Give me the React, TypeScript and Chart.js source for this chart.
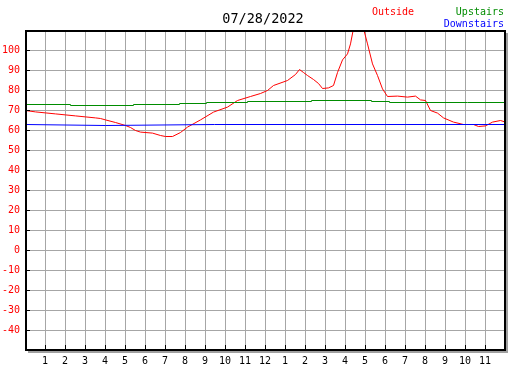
import React, { useEffect, useRef } from "react";
import { Chart, registerables } from "chart.js";

Chart.register(...registerables);

const TITLE = "07/28/2022";
const SERIES_NAMES = ["Outside", "Upstairs", "Downstairs"];
const SERIES_COLORS = ["#ff0000", "#008c00", "#0000ff"];

// hours since midnight
const outsideHours = [
  0, 0.5, 1, 1.5, 2, 2.5, 3, 3.5, 3.75, 4, 4.5, 5, 5.25, 5.5, 5.75, 6.35, 6.75, 7,
  7.35, 7.75, 8.1, 8.75, 9.4, 10.1, 10.6, 11.25, 11.75, 12.1, 12.4, 13.1, 13.5,
  13.7, 13.9, 14.1, 14.4, 14.65, 14.85, 15.15, 15.4, 15.6, 15.85, 16.1, 16.25,
  16.4, 16.65, 16.9, 17.1, 17.35, 17.6, 17.85, 18.1, 18.6, 19.1, 19.5, 19.75, 20,
  20.25, 20.6, 20.9, 21.4, 21.9, 22.4, 22.65, 23, 23.35, 23.75, 24,
];
const outsideTemps = [
  70, 69.3, 68.8, 68.3, 67.8, 67.3, 66.8, 66.3, 66, 65.3, 64, 62.5, 61.5, 60,
  59.2, 58.7, 57.5, 57, 57, 59, 61.7, 65.3, 69.2, 71.7, 75, 77, 78.5, 80, 82.5,
  85, 88, 90.5, 89, 87.5, 85.5, 83.5, 81, 81.3, 82.5, 89, 95.3, 98.3, 103.3, 111,
  116, 111, 103.3, 93.3, 87.5, 80.8, 77, 77.2, 76.7, 77.2, 75.3, 75, 70, 68.7,
  66.3, 64.2, 63, 63, 62, 62.3, 64.2, 65, 64.2,
];

const upstairsHours = [0, 2.25, 5.4, 7.7, 9.05, 11.1, 14.3, 17.3, 18.2, 22.1, 24];
const upstairsTemps = [73.5, 73, 72.5, 73, 73.5, 74, 74.5, 75, 74.5, 74, 74];

const downstairsHours = [0, 4, 9.45, 24];
const downstairsTemps = [63, 62.5, 63, 63];

const hourTicks = [0, 1, 2, 3, 4, 5, 6, 7, 8, 9, 10, 11, 12, 13, 14, 15, 16, 17, 18, 19, 20, 21, 22, 23, 24];
const hourLabels = ["", "1", "2", "3", "4", "5", "6", "7", "8", "9", "10", "11", "12", "1", "2", "3", "4", "5", "6", "7", "8", "9", "10", "11", ""];
const yMin = -50;
const yMax = 110;

const pts = (xs: number[], ys: number[]) => xs.map((x, i) => ({ x, y: ys[i] }));

const crispPlugin = {
  id: "crisp",
  beforeDatasetsDraw(chart: any) {
    chart.ctx.save();
    chart.ctx.translate(0.5, 0.5);
  },
  afterDatasetsDraw(chart: any) {
    chart.ctx.restore();
  },
};

const framePlugin = {
  id: "frame",
  afterDraw(chart: any) {
    const { ctx, chartArea } = chart;
    const { left, top, right, bottom } = chartArea;
    const w = right - left;
    const h = bottom - top;
    ctx.save();
    // shadow
    ctx.fillStyle = "#a0a0a0";
    ctx.fillRect(right + 1, top + 3, 2, h);
    ctx.fillRect(left + 3, bottom + 1, w, 2);
    // frame
    ctx.fillStyle = "#000000";
    ctx.fillRect(left, top, w, 2);
    ctx.fillRect(left, top, 2, h);
    ctx.fillRect(right - 1, top, 2, h + 1);
    ctx.fillRect(left, bottom - 1, w + 1, 2);
    // inner ticks
    const ys = chart.scales.y;
    for (let v = -40; v <= 100; v += 10) {
      const py = Math.round(ys.getPixelForValue(v));
      ctx.fillRect(left, py, 5, 1);
    }
    const xs = chart.scales.x;
    for (let hr = 1; hr <= 23; hr++) {
      const px = Math.round(xs.getPixelForValue(hr));
      ctx.fillRect(px, bottom - 5, 1, 5);
    }
    // title and legend
    ctx.textBaseline = "middle";
    ctx.font = "13.5px 'DejaVu Sans Mono'";
    ctx.fillStyle = "#000000";
    ctx.textAlign = "center";
    ctx.fillText(TITLE, 263, 19);
    ctx.font = "10px 'DejaVu Sans Mono'";
    ctx.fillStyle = SERIES_COLORS[0];
    ctx.fillText(SERIES_NAMES[0], 393, 12);
    ctx.textAlign = "right";
    ctx.fillStyle = SERIES_COLORS[1];
    ctx.fillText(SERIES_NAMES[1], 504, 12);
    ctx.fillStyle = SERIES_COLORS[2];
    ctx.fillText(SERIES_NAMES[2], 504, 24);
    ctx.restore();
  },
};

export default function App() {
  const ref = useRef<HTMLCanvasElement>(null);
  useEffect(() => {
    document.body.style.margin = "0";
    const canvas = ref.current!;
    const mk = (i: number, data: any[]) => ({
      label: SERIES_NAMES[i],
      data,
      borderColor: SERIES_COLORS[i],
      backgroundColor: SERIES_COLORS[i],
      borderWidth: 1,
      pointRadius: 0,
      tension: 0,
      clip: 0,
    });
    const chart = new Chart(canvas, {
      type: "line",
      data: {
        datasets: [
          mk(2, pts(downstairsHours, downstairsTemps)),
          { ...mk(1, pts(upstairsHours, upstairsTemps)), stepped: "after" },
          mk(0, pts(outsideHours, outsideTemps)),
        ],
      },
      options: {
        animation: false,
        responsive: false,
        devicePixelRatio: 1,
        events: [],
        layout: { padding: { left: 0, right: 22, top: 30, bottom: 0 } },
        plugins: { legend: { display: false }, tooltip: { enabled: false }, title: { display: false } },
        scales: {
          x: {
            type: "linear",
            min: 0,
            max: 24,
            afterFit: (s: any) => { s.height = 20; },
            afterBuildTicks: (s: any) => { s.ticks = hourTicks.map((v) => ({ value: v })); },
            ticks: {
              autoSkip: false,
              maxRotation: 0,
              padding: 5,
              color: "#000000",
              font: { family: "'DejaVu Sans Mono'", size: 10 },
              callback: (v: any) => hourLabels[hourTicks.indexOf(Number(v))] ?? "",
            },
            grid: { color: "#a6a6a6", lineWidth: 1, drawTicks: false },
            border: { display: false },
          },
          y: {
            min: yMin,
            max: yMax,
            afterFit: (s: any) => { s.width = 25; },
            ticks: {
              stepSize: 10,
              autoSkip: false,
              padding: 5,
              color: "#ff0000",
              font: { family: "'DejaVu Sans Mono'", size: 10 },
              callback: (v: any) => (v === yMin || v === yMax ? "" : String(v)),
            },
            grid: { color: "#a6a6a6", lineWidth: 1, drawTicks: false },
            border: { display: false },
          },
        },
      },
      plugins: [crispPlugin, framePlugin],
    } as any);
    return () => chart.destroy();
  }, []);
  return (
    <div style={{ position: "fixed", left: 0, top: 0 }}>
      <canvas ref={ref} width={527} height={370} style={{ display: "block", width: 527, height: 370 }} />
    </div>
  );
}
